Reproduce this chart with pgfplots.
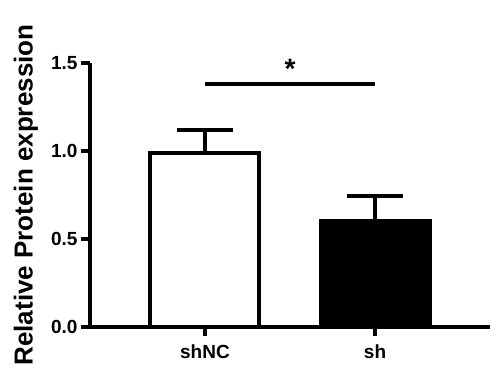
\documentclass[border=0pt]{standalone}
\usepackage{fontspec}
\setmainfont{Liberation Sans}
\usepackage{pgfplots}
\pgfplotsset{compat=1.18}
\begin{document}
\begin{tikzpicture}
\useasboundingbox (-90bp,-53bp) rectangle (414bp,327bp);
\begin{axis}[
  scale only axis, width=400bp, height=264bp,
  xmin=-0.676, xmax=1.676, ymin=0, ymax=1.5,
  axis x line*=bottom, axis y line*=left,
  axis line style={line width=4bp, black},
  xtick={0,1}, xticklabels={shNC, sh},
  ytick={0,0.5,1,1.5}, yticklabels={0.0,0.5,1.0,1.5},
  tick align=outside, major tick length=9bp,
  tick style={line width=4bp, black},
  tick label style={font=\bfseries\fontsize{19bp}{19bp}\selectfont},
  xticklabel style={yshift=-5bp},
  ylabel={Relative Protein expression},
  ylabel style={font=\bfseries\fontsize{26bp}{26bp}\selectfont, at={(axis description cs:-0.16,0.5)}, anchor=center},
  clip=false,
]
\addplot[ybar, bar width=109bp, bar shift=0pt, fill=white, draw=black, line width=4bp,
  error bars/.cd, y dir=plus, y explicit, error mark=|,
  error bar style={line width=4bp, black},
  error mark options={line width=4bp, black, mark size=28bp}]
  coordinates {(0,0.99) +- (0,0.13)};
\addplot[ybar, bar width=109bp, bar shift=0pt, fill=black, draw=black, line width=4bp,
  error bars/.cd, y dir=plus, y explicit, error mark=|,
  error bar style={line width=4bp, black},
  error mark options={line width=4bp, black, mark size=28bp}]
  coordinates {(1,0.605) +- (0,0.14)};
\draw[line width=4bp] (axis cs:0,1.38) -- (axis cs:1,1.38);
\node[anchor=base, inner sep=0pt, font=\bfseries\fontsize{28bp}{28bp}\selectfont] at (axis cs:0.5,1.41) {*};
\end{axis}
\end{tikzpicture}
\end{document}
